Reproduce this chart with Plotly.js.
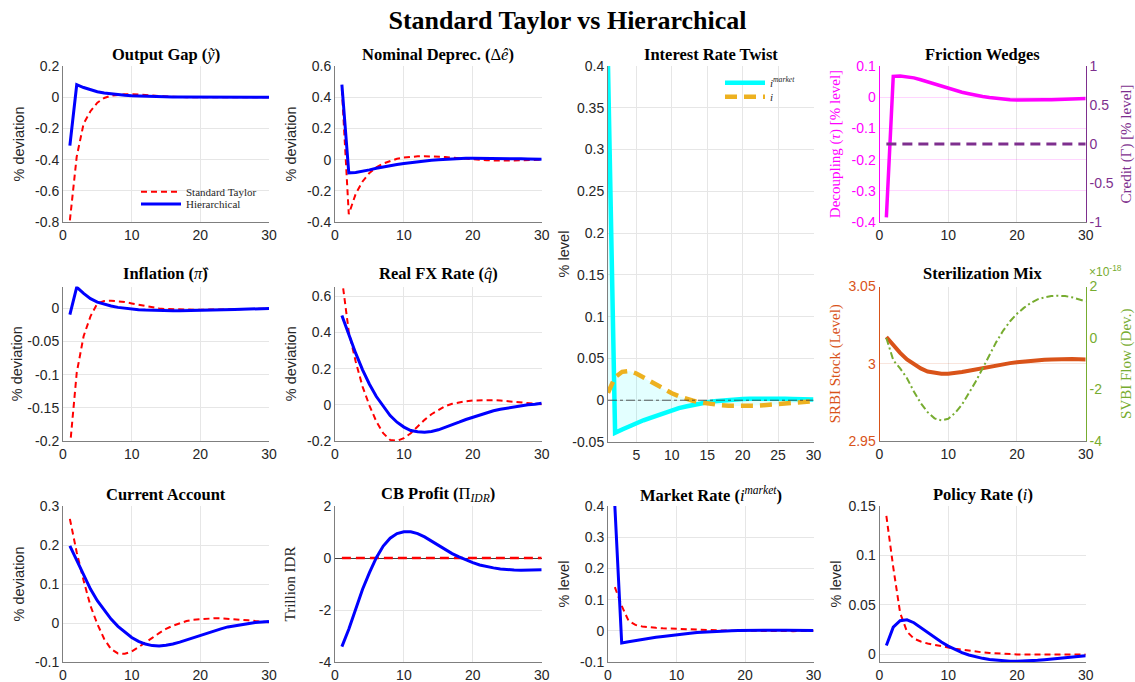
<!DOCTYPE html>
<html>
<head>
<meta charset="utf-8">
<script src="https://cdn.plot.ly/plotly-3.0.1.min.js"></script>
<style>html,body{margin:0;padding:0;background:#fff;}#chart{width:1135px;height:682px;}</style>
</head>
<body>
<div id="chart"></div>
<script>
// ---------------- data ----------------
const periods = [1,2,3,4,5,6,7,8,9,10,11,12,13,14,15,16,17,18,19,20,21,22,23,24,25,26,27,28,29,30];

const outputGapTaylor = [-0.79,-0.38,-0.17,-0.09,-0.035,-0.005,0.010,0.015,0.019,0.020,0.018,0.015,0.011,0.007,0.004,0.002,0.001,0,0,-0.001,-0.001,-0.001,-0.001,-0.001,0,0,0,0,0,0];
const outputGapHier = [-0.31,0.08,0.062,0.046,0.035,0.027,0.021,0.017,0.013,0.010,0.008,0.006,0.0045,0.0035,0.0025,0.0018,0.0012,0.0008,0.0005,0.0003,0.0002,0.0001,0,0,0,0,0,0,0,0];

const nomDeprecTaylor = [0.45,-0.35,-0.22,-0.14,-0.085,-0.05,-0.025,-0.008,0.005,0.013,0.018,0.021,0.022,0.021,0.019,0.016,0.012,0.008,0.004,0.001,-0.002,-0.004,-0.005,-0.006,-0.006,-0.005,-0.004,-0.003,-0.002,-0.001];
const nomDeprecHier = [0.48,-0.085,-0.083,-0.076,-0.066,-0.056,-0.047,-0.039,-0.032,-0.025,-0.019,-0.013,-0.008,-0.004,-0.001,0.002,0.005,0.007,0.008,0.009,0.009,0.009,0.008,0.008,0.007,0.006,0.005,0.004,0.003,0.002];

const inflationTaylor = [-0.21,-0.097,-0.042,-0.012,0.0075,0.011,0.0116,0.011,0.0095,0.0075,0.0055,0.0035,0.0015,0,-0.001,-0.0015,-0.002,-0.002,-0.002,-0.002,-0.002,-0.002,-0.0018,-0.0016,-0.0014,-0.0012,-0.001,-0.0008,-0.0006,-0.0005];
const inflationHier = [-0.0095,0.032,0.0226,0.0146,0.0095,0.006,0.0035,0.0015,0,-0.001,-0.002,-0.0025,-0.003,-0.0033,-0.0035,-0.0035,-0.0034,-0.0033,-0.0031,-0.003,-0.0027,-0.0024,-0.0021,-0.0018,-0.0015,-0.0012,-0.0009,-0.0006,-0.0004,-0.0002];

const realFxTaylor = [0.70,0.405,0.24,0.101,-0.004,-0.092,-0.157,-0.194,-0.199,-0.184,-0.157,-0.12,-0.083,-0.052,-0.028,-0.007,0.006,0.015,0.02,0.024,0.026,0.026,0.026,0.024,0.02,0.017,0.013,0.009,0.006,0.004];
const realFxHier = [0.494,0.387,0.286,0.194,0.114,0.046,-0.009,-0.059,-0.096,-0.123,-0.142,-0.149,-0.151,-0.147,-0.138,-0.125,-0.111,-0.096,-0.081,-0.068,-0.055,-0.044,-0.033,-0.024,-0.017,-0.011,-0.006,0,0.004,0.009];

const currentAccountTaylor = [0.267,0.181,0.109,0.044,-0.0025,-0.041,-0.067,-0.078,-0.079,-0.073,-0.062,-0.051,-0.038,-0.026,-0.015,-0.007,0,0.005,0.0085,0.01,0.011,0.012,0.012,0.011,0.01,0.0085,0.007,0.005,0.0035,0.002];
const currentAccountHier = [0.198,0.16,0.121,0.087,0.057,0.032,0.01,-0.0085,-0.024,-0.037,-0.047,-0.054,-0.058,-0.059,-0.057,-0.054,-0.049,-0.043,-0.037,-0.031,-0.025,-0.02,-0.015,-0.01,-0.007,-0.0035,-0.001,0.001,0.0025,0.004];

const cbProfitTaylor = [0,0,0,0,0,0,0,0,0,0,0,0,0,0,0,0,0,0,0,0,0,0,0,0,0,0,0,0,0,0];
const cbProfitHier = [-3.41,-2.74,-1.97,-1.2,-0.56,0.013,0.46,0.76,0.94,1.01,1.01,0.94,0.81,0.65,0.49,0.32,0.17,0.04,-0.08,-0.18,-0.27,-0.33,-0.38,-0.42,-0.45,-0.46,-0.47,-0.47,-0.46,-0.45];

const marketRateTaylor = [0.14,0.08,0.032,0.019,0.014,0.011,0.0095,0.008,0.007,0.0062,0.0054,0.0046,0.0038,0.003,0.0022,0.0015,0.0009,0.0004,0,-0.0008,-0.001,-0.0013,-0.0015,-0.0015,-0.0015,-0.0013,-0.0011,-0.0009,-0.0007,-0.0005];
const marketRateHier = [0.4,-0.039,-0.035,-0.031,-0.027,-0.024,-0.021,-0.018,-0.015,-0.012,-0.0095,-0.0075,-0.0055,-0.004,-0.0025,-0.0012,-0.0003,0.0005,0.001,0.0015,0.0018,0.002,0.002,0.002,0.002,0.0018,0.0016,0.0014,0.0012,0.001];

const policyRateTaylor = [0.14,0.088,0.042,0.023,0.016,0.013,0.011,0.0095,0.0082,0.007,0.0058,0.0047,0.0037,0.0028,0.002,0.0014,0.0009,0.0005,0.0002,0,-0.0001,-0.0002,-0.0002,-0.0002,-0.0002,-0.0001,-0.0001,0,0,0];
const policyRateHier = [0.009,0.0275,0.034,0.035,0.032,0.027,0.022,0.017,0.0125,0.0084,0.0048,0.0018,-0.0006,-0.0025,-0.004,-0.0052,-0.006,-0.0066,-0.0069,-0.007,-0.0068,-0.0065,-0.006,-0.0054,-0.0048,-0.0041,-0.0034,-0.0027,-0.002,-0.0013];

const decouplingTau = [-0.385,0.067,0.068,0.066,0.062,0.056,0.049,0.042,0.035,0.028,0.022,0.016,0.011,0.006,0.002,-0.001,-0.004,-0.006,-0.008,-0.009,-0.0095,-0.0095,-0.009,-0.0085,-0.008,-0.007,-0.006,-0.005,-0.0045,-0.004];
const creditGamma = [0,0,0,0,0,0,0,0,0,0,0,0,0,0,0,0,0,0,0,0,0,0,0,0,0,0,0,0,0,0];

const srbiStock = [3.0173,3.012,3.007,3.0028,2.9996,2.997,2.995,2.994,2.9936,2.9936,2.994,2.9947,2.9955,2.9964,2.9972,2.998,2.999,2.9998,3.0004,3.001,3.0015,3.0019,3.0023,3.0026,3.0028,3.003,3.003,3.003,3.0029,3.0028];
const svbiFlowE18 = [0,-0.86,-1.18,-1.56,-2.08,-2.53,-2.88,-3.12,-3.2,-3.14,-2.91,-2.59,-2.14,-1.69,-1.18,-0.67,-0.15,0.29,0.65,0.94,1.17,1.36,1.5,1.58,1.63,1.64,1.63,1.58,1.51,1.42];

// tick values
const xTicks = [0,10,20,30];
const xTicksTwist = [5,10,15,20,25,30];
const yTicksOutput = [-0.8,-0.6,-0.4,-0.2,0,0.2];
const yTicksDeprec = [-0.4,-0.2,0,0.2,0.4,0.6];
const yTicksTwist = [-0.05,0,0.05,0.1,0.15,0.2,0.25,0.3,0.35,0.4];
const yTicksTau = [-0.4,-0.3,-0.2,-0.1,0,0.1];
const yTicksGamma = [-1,-0.5,0,0.5,1];
const yTicksInfl = [-0.2,-0.15,-0.1,-0.05,0];
const yTicksFx = [-0.2,0,0.2,0.4,0.6];
const yTicksSrbi = [2.95,3,3.05];
const yTicksSvbi = [-4,-2,0,2];
const yTicksCA = [-0.1,0,0.1,0.2,0.3];
const yTicksCB = [-4,-2,0,2];
const yTicksMkt = [-0.1,0,0.1,0.2,0.3,0.4];
const yTicksPol = [0,0.05,0.1,0.15];

// ---------------- layout helpers ----------------
const W = 1135, H = 682;
const cols = [[63,269],[335,541.7],[608,813.5],[879.5,1085.7]];
const rowsPx = {r1:[66,222], r2:[286.5,441], r3:[506,662], tw:[66,442]};
const px = (a,b) => [a/W, b/W];
const py = (t,b) => [1-b/H, 1-t/H];

const RED = '#FF0000', BLUE = '#0000FF';
const TXT = '#262626';
const sans = 'Liberation Sans, Arial, sans-serif';
const serif = 'Liberation Serif, Times New Roman, serif';
const TICK = 14;

function xAxis(col, row, range, ticks, anchor){
  return {domain: px(cols[col][0], cols[col][1]), anchor: anchor, range: range,
    tickvals: ticks, ticktext: ticks.map(String), ticks: '', ticklabelstandoff: 0,
    tickfont: {family: sans, size: TICK, color: TXT},
    showgrid: true, gridcolor: '#e6e6e6', gridwidth: 1, zeroline: false,
    showline: true, linecolor: '#7f7f7f', linewidth: 1, fixedrange: true};
}
function yAxis(row, range, ticks, anchor, title, opts){
  const r = rowsPx[row];
  const o = Object.assign({color: TXT, family: sans, size: 14.5, grid: '#e6e6e6', line: '#7f7f7f'}, opts||{});
  return {domain: py(r[0], r[1]), anchor: anchor, range: range,
    tickvals: ticks, ticktext: ticks.map(String), ticks: '',
    tickfont: {family: sans, size: TICK, color: o.tickcolor || o.color},
    title: {text: title, font: {family: o.family, size: o.size, color: o.color}},
    showgrid: true, gridcolor: o.grid, gridwidth: 1, zeroline: false,
    showline: true, linecolor: o.line, linewidth: 1, fixedrange: true};
}

function line(x, y, xa, ya, color, width, dash, extra){
  return Object.assign({x: x, y: y, xaxis: xa, yaxis: ya, type: 'scatter', mode: 'lines',
    line: {color: color, width: width, dash: dash || 'solid'}, showlegend: false, hoverinfo: 'skip'}, extra||{});
}
const TDASH = '6px,4px';

const traces = [
  // Output gap
  line(periods, outputGapTaylor, 'x', 'y', RED, 2, TDASH, {name: 'Standard Taylor', showlegend: true, legend: 'legend'}),
  line(periods, outputGapHier, 'x', 'y', BLUE, 3, 'solid', {name: 'Hierarchical', showlegend: true, legend: 'legend2'}),
  // Nominal depreciation
  line(periods, nomDeprecTaylor, 'x2', 'y2', RED, 2, TDASH),
  line(periods, nomDeprecHier, 'x2', 'y2', BLUE, 3),
  // Interest rate twist: shaded gap
  line(periods, marketRateHier, 'x3', 'y3', 'rgba(0,0,0,0)', 0),
  line(periods, policyRateHier, 'x3', 'y3', 'rgba(0,0,0,0)', 0, 'solid', {fill: 'tonexty', fillcolor: 'rgba(0,255,255,0.11)'}),
  line(periods, marketRateHier, 'x3', 'y3', '#00FFFF', 4.5, 'solid', {name: '<i>i</i><sup><i>market</i></sup>', showlegend: true, legend: 'legend3'}),
  line(periods, policyRateHier, 'x3', 'y3', '#EDB120', 4.5, '12px,7px', {name: '<i>i</i>', showlegend: true, legend: 'legend4'}),
  // Friction wedges
  line(periods, decouplingTau, 'x4', 'y4', '#FF00FF', 3.5),
  line(periods, creditGamma, 'x4', 'y5', '#7E2F8E', 3, '10px,6px'),
  // Inflation
  line(periods, inflationTaylor, 'x5', 'y6', RED, 2, TDASH),
  line(periods, inflationHier, 'x5', 'y6', BLUE, 3),
  // Real FX
  line(periods, realFxTaylor, 'x6', 'y7', RED, 2, TDASH),
  line(periods, realFxHier, 'x6', 'y7', BLUE, 3),
  // Sterilization mix
  line(periods, srbiStock, 'x7', 'y8', '#D95319', 4),
  line(periods, svbiFlowE18, 'x7', 'y9', '#77AC30', 2, '7px,3px,2px,3px'),
  // Current account
  line(periods, currentAccountTaylor, 'x8', 'y10', RED, 2, TDASH),
  line(periods, currentAccountHier, 'x8', 'y10', BLUE, 3),
  // CB profit
  line(periods, cbProfitTaylor, 'x9', 'y11', RED, 2.5, '9px,5px'),
  line(periods, cbProfitHier, 'x9', 'y11', BLUE, 3),
  // Market rate
  line(periods, marketRateTaylor, 'x10', 'y12', RED, 2, TDASH),
  line(periods, marketRateHier, 'x10', 'y12', BLUE, 3),
  // Policy rate
  line(periods, policyRateTaylor, 'x11', 'y13', RED, 2, TDASH),
  line(periods, policyRateHier, 'x11', 'y13', BLUE, 3)
];

const MAG = '#FF00FF', PUR = '#7E2F8E', ORG = '#D95319', GRN = '#77AC30';

const legendBase = {xanchor: 'left', yanchor: 'middle', bgcolor: 'rgba(0,0,0,0)', borderwidth: 0,
  itemwidth: 40, font: {family: serif, size: 11, color: TXT}};

const layout = {
  width: W, height: H,
  margin: {l: 0, r: 0, t: 0, b: 0},
  paper_bgcolor: '#ffffff', plot_bgcolor: 'rgba(0,0,0,0)',
  showlegend: true,
  title: {text: '<b>Standard Taylor vs Hierarchical</b>', font: {family: serif, size: 26, color: '#000'},
    x: 0.5, xanchor: 'center', y: 1 - 20/H, yanchor: 'middle', xref: 'paper', yref: 'paper'},
  xaxis: xAxis(0, 'r1', [0,30], xTicks, 'y'),
  yaxis: yAxis('r1', [-0.8,0.2], yTicksOutput, 'x', '% deviation'),
  xaxis2: xAxis(1, 'r1', [0,30], xTicks, 'y2'),
  yaxis2: yAxis('r1', [-0.4,0.6], yTicksDeprec, 'x2', '% deviation'),
  xaxis3: xAxis(2, 'tw', [1,30], xTicksTwist, 'y3'),
  yaxis3: yAxis('tw', [-0.05,0.4], yTicksTwist, 'x3', '% level'),
  xaxis4: xAxis(3, 'r1', [0,30], xTicks, 'y4'),
  yaxis4: yAxis('r1', [-0.4,0.1], yTicksTau, 'x4', 'Decoupling (<i>τ</i>) [% level]',
    {color: MAG, family: serif, size: 15, grid: 'rgba(255,0,255,0.16)', line: MAG}),
  yaxis5: Object.assign(yAxis('r1', [-1,1], yTicksGamma, 'x4', 'Credit (Γ) [% level]',
    {color: PUR, family: serif, size: 15, line: PUR}), {overlaying: 'y4', side: 'right', showgrid: false}),
  xaxis5: xAxis(0, 'r2', [0,30], xTicks, 'y6'),
  yaxis6: yAxis('r2', [-0.2,0.033], yTicksInfl, 'x5', '% deviation'),
  xaxis6: xAxis(1, 'r2', [0,30], xTicks, 'y7'),
  yaxis7: yAxis('r2', [-0.2,0.655], yTicksFx, 'x6', '% deviation'),
  xaxis7: xAxis(3, 'r2', [0,30], xTicks, 'y8'),
  yaxis8: yAxis('r2', [2.95,3.05], yTicksSrbi, 'x7', 'SRBI Stock (Level)',
    {color: ORG, family: serif, size: 15, grid: 'rgba(217,83,25,0.15)', line: ORG}),
  yaxis9: Object.assign(yAxis('r2', [-4,2], yTicksSvbi, 'x7', 'SVBI Flow (Dev.)',
    {color: GRN, family: serif, size: 15, line: GRN}), {overlaying: 'y8', side: 'right', showgrid: false}),
  xaxis8: xAxis(0, 'r3', [0,30], xTicks, 'y10'),
  yaxis10: yAxis('r3', [-0.1,0.3], yTicksCA, 'x8', '% deviation'),
  xaxis9: xAxis(1, 'r3', [0,30], xTicks, 'y11'),
  yaxis11: Object.assign(yAxis('r3', [-4,2], yTicksCB, 'x9', 'Trillion IDR', {family: serif, size: 15}),
    {zeroline: true, zerolinecolor: '#404040', zerolinewidth: 1}),
  xaxis10: xAxis(2, 'r3', [0,30], xTicks, 'y12'),
  yaxis12: yAxis('r3', [-0.1,0.4], yTicksMkt, 'x10', '% level'),
  xaxis11: xAxis(3, 'r3', [0,30], xTicks, 'y13'),
  yaxis13: yAxis('r3', [-0.0077,0.15], yTicksPol, 'x11', '% level'),
  shapes: [
    {type: 'line', xref: 'x3', yref: 'y3', x0: 1, x1: 30, y0: 0, y1: 0,
     line: {color: '#333333', width: 0.8, dash: 'dashdot'}, layer: 'above'}
  ],
  annotations: [],
  legend:  Object.assign({}, legendBase, {x: 136/W, y: 1-191.7/H}),
  legend2: Object.assign({}, legendBase, {x: 136/W, y: 1-204/H}),
  legend3: Object.assign({}, legendBase, {x: 720/W, y: 1-82.7/H}),
  legend4: Object.assign({}, legendBase, {x: 720/W, y: 1-96.7/H})
};

// subplot titles
const panelTitles = [
  ['<b>Output Gap (</b><i>ỹ</i><b>)</b>', 0, 54],
  ['<b>Nominal Deprec. (</b>Δ<i>ê</i><b>)</b>', 1, 54],
  ['<b>Interest Rate Twist</b>', 2, 54],
  ['<b>Friction Wedges</b>', 3, 54],
  ['<b>Inflation (</b><i>π̂</i><b>)</b>', 0, 273],
  ['<b>Real FX Rate (</b><i>q̂</i><b>)</b>', 1, 273],
  ['<b>Sterilization Mix</b>', 3, 273],
  ['<b>Current Account</b>', 0, 494],
  ['<b>CB Profit (</b>Π<sub><i>IDR</i></sub><b>)</b>', 1, 494],
  ['<b>Market Rate (</b><i>i</i><sup><i>market</i></sup><b>)</b>', 2, 494],
  ['<b>Policy Rate (</b><i>i</i><b>)</b>', 3, 494]
];
panelTitles.forEach(t => {
  layout.annotations.push({text: t[0], xref: 'paper', yref: 'paper',
    x: (cols[t[1]][0] + cols[t[1]][1]) / 2 / W, y: 1 - t[2]/H, xanchor: 'center', yanchor: 'middle',
    showarrow: false, font: {family: serif, size: 16.5, color: '#000'}});
});
layout.annotations.push({text: '×10<sup>-18</sup>', xref: 'paper', yref: 'paper', x: 1087/W, y: 1 - 271/H,
  xanchor: 'left', yanchor: 'middle', showarrow: false, font: {family: sans, size: 12, color: GRN}});

Plotly.newPlot('chart', traces, layout, {staticPlot: true, displayModeBar: false});
</script>
</body>
</html>
